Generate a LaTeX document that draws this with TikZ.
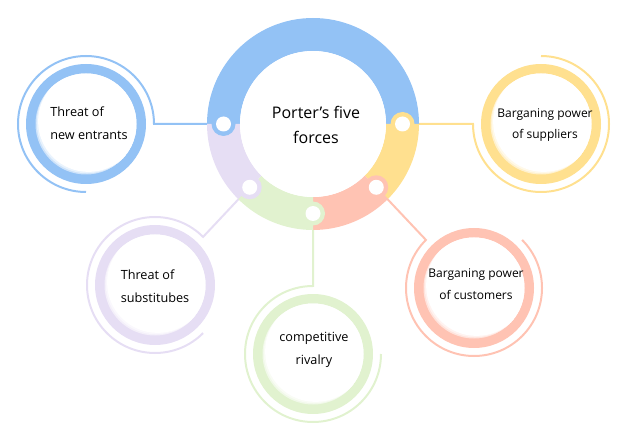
\documentclass[tikz,border=0pt]{standalone}
\usepackage{fontspec}
\setmainfont{Open Sans}
\usetikzlibrary{calc}
\definecolor{fblue}{HTML}{93C2F5}
\definecolor{fyellow}{HTML}{FFE08F}
\definecolor{fred}{HTML}{FFC3B3}
\definecolor{fgreen}{HTML}{E1F2CF}
\definecolor{fpurple}{HTML}{E6DEF4}
\tikzset{
	wire/.style={line width=1.5pt},
	forcetext/.style={align=center, font=\fontsize{9.5}{17}\selectfont},
}
\def\ringpart[#1](#2:#3){\fill[#1] ($(hub)+(#2:106)$) arc (#2:#3:106) -- ($(hub)+(#3:73)$) arc (#3:#2:73) -- cycle;}
\def\bubble[#1](#2){\fill[#1] (#2) circle (60);
	\begin{scope} \clip (#2) circle (50.5);
	\fill[#1!45] (#2) circle (50.5);
	\fill[#1!20] ($(#2)+(1.2,1.2)$) circle (50.5);
	\fill[white] ($(#2)+(2.6,2.6)$) circle (50.5);
	\end{scope}}

\begin{document}
\begin{tikzpicture}[x=0.75pt, y=0.75pt]
			%%%%% START %%%%%
			\useasboundingbox (0,0) rectangle (624,425);
			
			\coordinate (hub) at (313, 301);
			\coordinate (k1) at ($(hub)+(180:89.5)$);
			\coordinate (k2) at ($(hub)+(0:89.5)$);
			\coordinate (k3) at ($(hub)+(-45:89.5)$);
			\coordinate (k4) at ($(hub)+(-90:89.5)$);
			\coordinate (k5) at ($(hub)+(-135:89.5)$);
			
			\coordinate (s1) at (86, 301);
			\coordinate (s2) at (541, 301);
			\coordinate (s3) at (155, 140);
			\coordinate (s4) at (474, 137);
			\coordinate (s5) at (313, 71);
			
			\coordinate (e1) at ($(s1)+(0:68)$);
			\coordinate (e2) at ($(s2)+(180:68)$);
			\coordinate (e3) at ($(s3)+(45:68)$);
			\coordinate (e4) at ($(s4)+(135:68)$);
			\coordinate (e5) at ($(s5)+(90:68)$);
			
			% connectors with their outer arcs
			\draw[wire, fblue] (k1) -- (e1) arc (0:270:68);
			\draw[wire, fyellow] (k2) -- (e2) arc (180:450:68);
			\draw[wire, fpurple] (k5) -- (e3) arc (45:315:68);
			\draw[wire, fred] (k3) -- (e4) arc (135:405:68);
			\draw[wire, fgreen] (k4) -- (e5) arc (90:360:68);
			
			% central ring
			\ringpart[fblue](0:180)
			\ringpart[fyellow](0:-45)
			\ringpart[fred](-45:-90)
			\ringpart[fgreen](-90:-135)
			\ringpart[fpurple](-135:-180)
			\fill[white] (hub) circle (73);
			
			\fill[fblue] (k1) circle (12);
			\fill[fyellow] (k2) circle (12);
			\fill[fred] (k3) circle (12);
			\fill[fgreen] (k4) circle (12);
			\fill[fpurple] (k5) circle (12);
			\foreach \k in {k1,k2,k3,k4,k5}
				\fill[white] (\k) circle (7.5);
			
			\node[forcetext, font=\fontsize{12}{19}\selectfont] (t0) at ($(hub)+(3,-1)$) {Porter's five\\forces};
			
			% satellites
			\bubble[fblue](s1)
			\bubble[fyellow](s2)
			\bubble[fpurple](s3)
			\bubble[fred](s4)
			\bubble[fgreen](s5)
			
			\node[forcetext, align=left] (t1) at ($(s1)+(3,1)$) {Threat of\\new entrants};
			\node[forcetext, font=\fontsize{9}{16}\selectfont] (t2) at ($(s2)+(4,-1)$) {Barganing power\\of suppliers};
			\node[forcetext, align=left] (t3) at ($(s3)+(0,-1)$) {Threat of\\substitubes};
			\node[forcetext, font=\fontsize{9}{16}\selectfont] (t4) at ($(s4)+(2,4)$) {Barganing power\\of customers};
			\node[forcetext] (t5) at ($(s5)+(1,4)$) {competitive\\rivalry};
			
			%%%%% END %%%%%
\end{tikzpicture}
\end{document}
